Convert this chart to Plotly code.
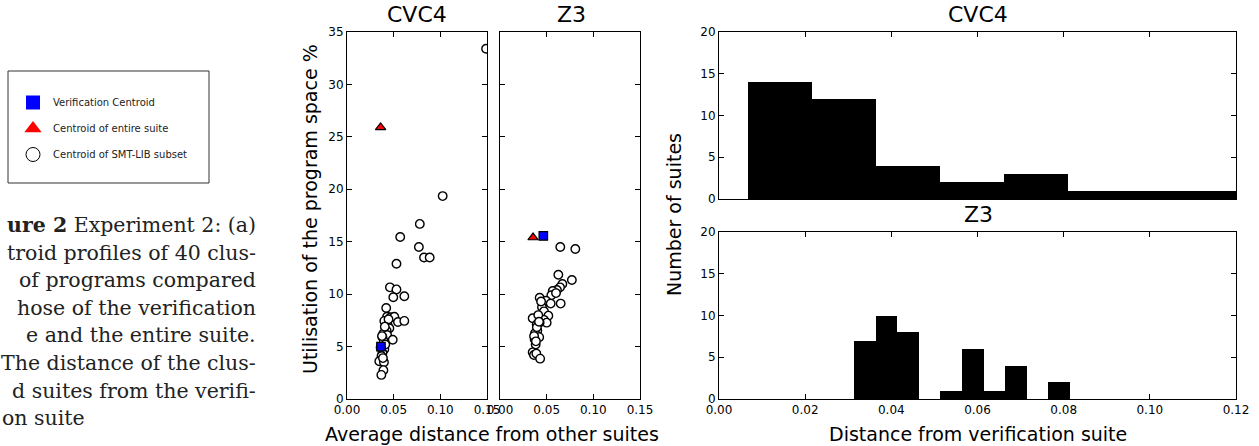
import plotly.graph_objects as go

# Scatter: centroid of each SMT-LIB cluster (avg distance from other suites, % of program space used)
cvc4_x = [0.149, 0.1025, 0.078, 0.057, 0.077, 0.0825, 0.0886, 0.053, 0.046, 0.053,
          0.0496, 0.0614, 0.042, 0.0429, 0.0468, 0.0507, 0.040, 0.0546, 0.0614, 0.0436,
          0.0454, 0.0425, 0.039, 0.043, 0.049, 0.038, 0.0395, 0.040, 0.038, 0.037,
          0.0346, 0.0396, 0.039, 0.0368, 0.041, 0.0375, 0.0445, 0.036, 0.0385, 0.0405]
cvc4_y = [33.4, 19.35, 16.7, 15.45, 14.5, 13.5, 13.5, 12.9, 10.65, 10.45,
          9.7, 9.8, 8.68, 7.85, 7.8, 7.85, 7.45, 7.35, 7.45, 7.0,
          6.75, 6.5, 6.25, 6.1, 5.65, 5.9, 5.5, 4.75, 4.4, 4.1,
          3.6, 3.5, 2.75, 2.3, 5.2, 6.0, 7.6, 4.9, 3.9, 6.9]
cvc4_verif = ([0.0364], [5.0])
cvc4_suite = ([0.036], [25.9])

z3_x = [0.0646, 0.0807, 0.0625, 0.077, 0.0668, 0.0643, 0.061, 0.0565, 0.055, 0.0425,
        0.0493, 0.0543, 0.065, 0.045, 0.0471, 0.0518, 0.035, 0.047, 0.05, 0.0425,
        0.0393, 0.040, 0.0375, 0.042, 0.0371, 0.0382, 0.035, 0.0364, 0.0389, 0.043,
        0.044, 0.0395, 0.0365, 0.041, 0.060, 0.0385, 0.0418]
z3_y = [14.5, 14.3, 11.85, 11.35, 10.97, 10.65, 10.4, 10.3, 9.9, 9.66,
        9.37, 9.1, 9.1, 8.75, 8.36, 7.95, 7.7, 7.55, 7.28, 7.3,
        7.1, 6.53, 6.26, 5.9, 5.7, 5.2, 4.45, 4.2, 4.33, 3.85,
        9.3, 6.85, 6.0, 8.0, 10.1, 5.5, 7.37]
z3_verif = ([0.0464], [15.55])
z3_suite = ([0.0354], [15.4])

# Histograms: distance from verification suite
cvc4_edges = [0.0068, 0.02165, 0.0365, 0.05135, 0.0662, 0.08105, 0.0959, 0.11075, 0.1256]
cvc4_counts = [14, 12, 4, 2, 3, 1, 1, 1]
z3_edges = [0.0314, 0.0364, 0.0414, 0.0464, 0.0514, 0.0564, 0.0614, 0.0664, 0.0714, 0.0764, 0.0814]
z3_counts = [7, 10, 8, 0, 1, 6, 1, 4, 0, 2]

caption_lines = ["<b>ure 2</b> Experiment 2: (a)", "troid profiles of 40 clus-",
                 "of programs compared", "hose of the verification",
                 "e and the entire suite.", "The distance of the clus-",
                 "d suites from the verifi-"]
caption_last = "on suite"

W, H = 1259, 446
def px(x): return x / W
def py(y): return 1 - y / H

FONT = "DejaVu Sans"
circle = dict(symbol='circle', size=8.5, color='white', line=dict(color='black', width=1.4))
square = dict(symbol='square', size=8.5, color='#0000ff', line=dict(color='black', width=1.2))
tri = dict(symbol='triangle-up', size=9, color='#ff0000', line=dict(color='black', width=1.2))

fig = go.Figure()

# legend-only entries
fig.add_trace(go.Scatter(x=[None], y=[None], mode='markers', name='Verification Centroid',
    marker=dict(symbol='square', size=14, color='#0000ff', line=dict(width=0)), legendgroup='a'))
fig.add_trace(go.Scatter(x=[None], y=[None], mode='markers', name='Centroid of entire suite',
    marker=dict(symbol='triangle-up', size=15, color='#ff0000', line=dict(width=0)), legendgroup='b'))
fig.add_trace(go.Scatter(x=[None], y=[None], mode='markers', name='Centroid of SMT-LIB subset',
    marker=dict(symbol='circle', size=14, color='white', line=dict(color='black', width=1)), legendgroup='c'))

for i, (xs, ys, ver, sui) in enumerate([(cvc4_x, cvc4_y, cvc4_verif, cvc4_suite),
                                         (z3_x, z3_y, z3_verif, z3_suite)]):
    ax = '' if i == 0 else '2'
    fig.add_trace(go.Scatter(x=xs, y=ys, mode='markers', marker=circle, showlegend=False,
                             xaxis='x' + ax, yaxis='y' + ax, hoverinfo='x+y'))
    fig.add_trace(go.Scatter(x=ver[0], y=ver[1], mode='markers', marker=square, showlegend=False,
                             xaxis='x' + ax, yaxis='y' + ax))
    fig.add_trace(go.Scatter(x=sui[0], y=sui[1], mode='markers', marker=tri, showlegend=False,
                             xaxis='x' + ax, yaxis='y' + ax))

for edges, counts, ax in [(cvc4_edges, cvc4_counts, '3'), (z3_edges, z3_counts, '4')]:
    centers = [(a + b) / 2 for a, b in zip(edges[:-1], edges[1:])]
    widths = [b - a for a, b in zip(edges[:-1], edges[1:])]
    fig.add_trace(go.Bar(x=centers, y=counts, width=widths, showlegend=False,
                         marker=dict(color='black', line=dict(width=0)),
                         xaxis='x' + ax, yaxis='y' + ax))

tickfont = dict(family=FONT, size=12, color='black')
axis_common = dict(showline=True, linecolor='black', linewidth=1, mirror='ticks', ticks='inside',
                   ticklen=5, tickwidth=1, tickcolor='black', showgrid=False, zeroline=False,
                   tickfont=tickfont, automargin=False, fixedrange=True)

fig.update_layout(
    width=W, height=H, margin=dict(l=0, r=0, t=0, b=0),
    paper_bgcolor='white', plot_bgcolor='white', bargap=0,
    xaxis=dict(domain=[px(347), px(487)], range=[0, 0.15], dtick=0.05, tickformat='.2f',
               anchor='y', **axis_common),
    yaxis=dict(domain=[py(399), py(32)], range=[0, 35], dtick=5, anchor='x', **axis_common),
    xaxis2=dict(domain=[px(500), px(640)], range=[0, 0.15], dtick=0.05, tickformat='.2f',
                anchor='y2', **axis_common),
    yaxis2=dict(domain=[py(399), py(32)], range=[0, 35], dtick=5, anchor='x2',
                showticklabels=False, **axis_common),
    xaxis3=dict(domain=[px(719), px(1236)], range=[0, 0.12], dtick=0.02, tickformat='.2f',
                anchor='y3', showticklabels=False, **axis_common),
    yaxis3=dict(domain=[py(199), py(32)], range=[0, 20], dtick=5, anchor='x3', **axis_common),
    xaxis4=dict(domain=[px(719), px(1236)], range=[0, 0.12], dtick=0.02, tickformat='.2f',
                anchor='y4', **axis_common),
    yaxis4=dict(domain=[py(399), py(232)], range=[0, 20], dtick=5, anchor='x4', **axis_common),
    legend=dict(x=px(13), y=py(88), xanchor='left', yanchor='top', bgcolor='rgba(0,0,0,0)',
                borderwidth=0, font=dict(family=FONT, size=10, color='#222222'),
                traceorder='grouped', tracegroupgap=7),
    showlegend=True,
)

# legend frame
fig.add_shape(type='rect', xref='paper', yref='paper', x0=px(8), x1=px(209), y0=py(183), y1=py(71),
              line=dict(color='#333333', width=1))

def label(text, x, y, size, angle=0):
    fig.add_annotation(text=text, xref='paper', yref='paper', x=px(x), y=py(y), showarrow=False,
                       xanchor='center', yanchor='middle', textangle=angle,
                       font=dict(family=FONT, size=size, color='black'))

label('CVC4', 417, 15, 22)
label('Z3', 571, 15, 22)
label('CVC4', 978, 15, 22)
label('Z3', 978, 215, 22)
label('Utilisation of the program space %', 310, 209, 19, angle=-90)
label('Average distance from other suites', 492, 434, 19)
label('Number of suites', 674, 215, 19, angle=-90)
label('Distance from verification suite', 978, 434, 19)

serif = dict(family='DejaVu Serif', size=20.5, color='#222222')
for k, line in enumerate(caption_lines):
    fig.add_annotation(text=line, xref='paper', yref='paper', x=px(258), y=py(225 + k * 27.6),
                       xanchor='right', yanchor='middle', showarrow=False, font=serif)
fig.add_annotation(text=caption_last, xref='paper', yref='paper', x=px(0), y=py(225 + 7 * 27.6),
                   xanchor='left', yanchor='middle', showarrow=False, font=serif)

# drop the default 8px page margin so the figure sits at the window's corner
fig.write_html("out.html", config={'displayModeBar': False},
               post_script="document.body.style.margin='0px';")
